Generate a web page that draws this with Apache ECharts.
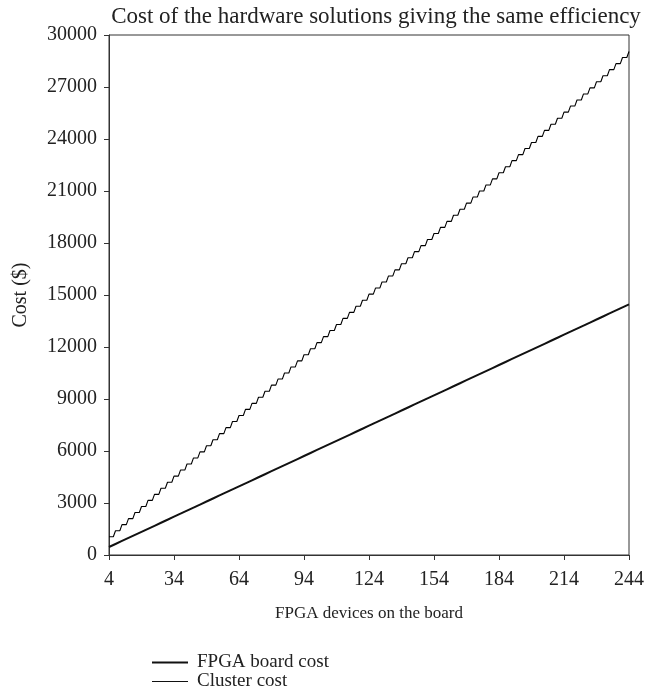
<!DOCTYPE html>
<html>
<head>
<meta charset="utf-8">
<script src="https://cdn.jsdelivr.net/npm/echarts@6/dist/echarts.min.js"></script>
<style>html,body{margin:0;padding:0;background:#fff}#c{width:647px;height:698px}</style>
</head>
<body>
<div id="c"></div>
<script>
// FPGA devices at the start of each step group
var devices = [4,7,10,13,16,19,22,25,28,31,34,37,40,43,46,49,52,55,58,61,64,67,70,73,76,79,82,85,88,91,94,97,100,103,106,109,112,115,118,121,124,127,130,133,136,139,142,145,148,151,154,157,160,163,166,169,172,175,178,181,184,187,190,193,196,199,202,205,208,211,214,217,220,223,226,229,232,235,238,241,244];
var clusterCost = [1050,1400,1750,2100,2450,2800,3150,3500,3850,4200,4550,4900,5250,5600,5950,6300,6650,7000,7350,7700,8050,8400,8750,9100,9450,9800,10150,10500,10850,11200,11550,11900,12250,12600,12950,13300,13650,14000,14350,14700,15050,15400,15750,16100,16450,16800,17150,17500,17850,18200,18550,18900,19250,19600,19950,20300,20650,21000,21350,21700,22050,22400,22750,23100,23450,23800,24150,24500,24850,25200,25550,25900,26250,26600,26950,27300,27650,28000,28350,28700,29050];
var fpgaCost = [460,635,810,985,1160,1335,1510,1685,1860,2035,2210,2385,2560,2735,2910,3085,3260,3435,3610,3785,3960,4135,4310,4485,4660,4835,5010,5185,5360,5535,5710,5885,6060,6235,6410,6585,6760,6935,7110,7285,7460,7635,7810,7985,8160,8335,8510,8685,8860,9035,9210,9385,9560,9735,9910,10085,10260,10435,10610,10785,10960,11135,11310,11485,11660,11835,12010,12185,12360,12535,12710,12885,13060,13235,13410,13585,13760,13935,14110,14285,14460];
var xTicks = [4,34,64,94,124,154,184,214,244];
var seriesNames = ['FPGA board cost','Cluster cost'];
var titleText = 'Cost of the hardware solutions giving the same efficiency';
var xName = 'FPGA devices on the board';
var yName = 'Cost ($)';

// each step group holds its value over three devices
var lastDev = devices[devices.length-1];
var clusterData = [];
for (var i=0;i<devices.length;i++){
  clusterData.push([devices[i], clusterCost[i]]);
  if (devices[i]+2 <= lastDev) clusterData.push([devices[i]+2, clusterCost[i]]);
}
var fpgaData = devices.map(function(d,i){return [d, fpgaCost[i]];});

var font = 'Liberation Serif';
var ink = '#222';
var legendText = {fontFamily:font,fontSize:19,color:ink,padding:[0,0,0,4]};
var chart = echarts.init(document.getElementById('c'), null, {renderer:'canvas'});
chart.setOption({
  animation:false,
  backgroundColor:'#fff',
  textStyle:{fontFamily:font,color:ink},
  title:{text:titleText,left:371,top:0,textAlign:'center',
    textStyle:{fontFamily:font,fontSize:23,fontWeight:'normal',color:ink}},
  grid:{left:109,right:14,top:35,bottom:143,show:true,borderColor:'#333',borderWidth:1,containLabel:false},
  xAxis:{type:'value',min:4,max:244,
    name:xName,nameLocation:'middle',nameGap:50,
    nameTextStyle:{fontFamily:font,fontSize:17,color:ink},
    axisLine:{show:true,lineStyle:{color:'#333',width:1}},
    axisTick:{show:true,length:5,inside:false,customValues:xTicks,lineStyle:{color:'#333'}},
    axisLabel:{customValues:xTicks,margin:15,fontFamily:font,fontSize:20,color:ink,formatter:function(v){return String(v);}},
    splitLine:{show:false}},
  yAxis:{type:'value',min:0,max:30000,interval:3000,
    name:yName,nameLocation:'middle',nameGap:78,
    nameTextStyle:{fontFamily:font,fontSize:20,color:ink},
    axisLine:{show:true,lineStyle:{color:'#333',width:1}},
    axisTick:{show:true,length:5,inside:false,lineStyle:{color:'#333'}},
    axisLabel:{margin:12,fontFamily:font,fontSize:20,color:ink,formatter:function(v){return String(v);}},
    splitLine:{show:false}},
  legend:[
    {left:147,top:648,itemWidth:36,itemHeight:2,icon:'rect',
      textStyle:legendText,data:[{name:seriesNames[0],itemStyle:{color:'#111'}}]},
    {left:147,top:667,itemWidth:36,itemHeight:1,icon:'rect',
      textStyle:legendText,data:[{name:seriesNames[1],itemStyle:{color:'#111'}}]}
  ],
  series:[
    {name:seriesNames[0],type:'line',data:fpgaData,showSymbol:false,symbol:'none',
      lineStyle:{color:'#111',width:2},itemStyle:{color:'#111'},z:3},
    {name:seriesNames[1],type:'line',data:clusterData,showSymbol:false,symbol:'none',
      lineStyle:{color:'#000',width:1.1},itemStyle:{color:'#111'},z:2}
  ]
});
</script>
</body>
</html>
